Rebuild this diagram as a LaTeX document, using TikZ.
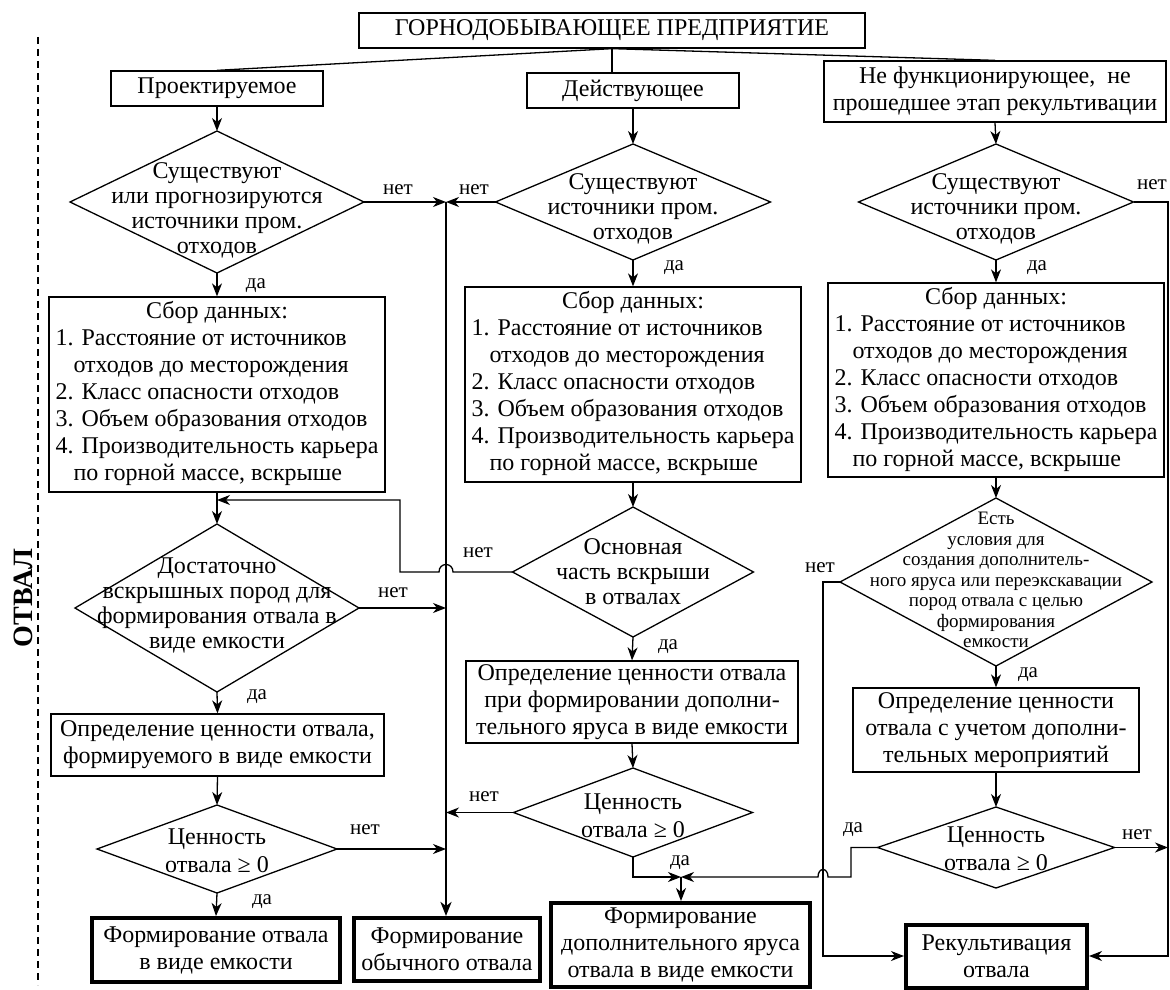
\documentclass[tikz,border=0pt]{standalone}
\usepackage{fontspec}
\setmainfont{Liberation Serif}
\usetikzlibrary{arrows.meta,shapes.geometric}
\begin{document}
\begin{tikzpicture}[x=1pt,y=-1pt,
  every node/.style={font=\fontsize{24}{27}\selectfont, align=center},
  box/.style={draw, line width=1.3pt, inner sep=0pt},
  fbox/.style={draw, line width=4pt, inner sep=0pt},
  dia/.style={draw, diamond, line width=1.3pt, inner sep=0pt, outer sep=0pt},
  dtxt/.style={inner sep=0pt, font=\fontsize{24}{25}\selectfont},
  ctxt/.style={inner sep=0pt, font=\fontsize{24}{28}\selectfont},
  stxt/.style={inner sep=0pt, font=\fontsize{19}{20.5}\selectfont},
  lbl/.style={inner sep=0pt, font=\fontsize{21}{22}\selectfont},
  ln/.style={line width=1.3pt},
  arr/.style={line width=1.3pt, -{Stealth[length=13pt,width=10pt,inset=4pt]}},
  thickline/.style={line width=2.6pt, -{Stealth[length=14pt,width=11pt,inset=4pt]}},
]
\path[use as bounding box] (0,0) rectangle (1170,990);

% side label
\draw[line width=1.2pt, dash pattern=on 7pt off 5pt] (38,37) -- (38,985);
\node[rotate=90, inner sep=0pt, font=\bfseries\fontsize{28}{30}\selectfont] (otv) at (23,598) {ОТВАЛ};

% top level
\node[box, minimum width=506, minimum height=35] (top) at (612,30.5) {ГОРНОДОБЫВАЮЩЕЕ ПРЕДПРИЯТИЕ};
\node[box, minimum width=212, minimum height=35] (proj) at (217,88.5) {Проектируемое};
\node[box, minimum width=212, minimum height=35] (act) at (633,90.5) {Действующее};
\node[box, minimum width=342, minimum height=61] (nonf) at (995,91.5) {Не функционирующее,~ не\\прошедшее этап рекультивации};

% first diamonds
\node[dia, minimum width=294, minimum height=142] (d1) at (217,202) {};
\node[dtxt] (d1t) at (217,210) {Существуют\\или прогнозируются\\источники пром.\\отходов};
\node[dia, minimum width=275, minimum height=116] (d2) at (633,202) {};
\node[dtxt] (d2t) at (633,209) {Существуют\\источники пром.\\отходов};
\node[dia, minimum width=275, minimum height=116] (d3) at (996,202) {};
\node[dtxt] (d3t) at (996,209) {Существуют\\источники пром.\\отходов};

% data boxes
\node[box, minimum width=336, minimum height=195] (db1) at (217,394.5) {\begin{tabular}{@{}l@{}}\multicolumn{1}{@{}c@{}}{Сбор данных:}\\1. Расстояние от источников\\\hspace*{18pt}отходов до месторождения\\2. Класс опасности отходов\\3. Объем образования отходов\\4. Производительность карьера\\\hspace*{18pt}по горной массе, вскрыше\end{tabular}};
\node[box, minimum width=336, minimum height=195] (db2) at (633,384.5) {\begin{tabular}{@{}l@{}}\multicolumn{1}{@{}c@{}}{Сбор данных:}\\1. Расстояние от источников\\\hspace*{18pt}отходов до месторождения\\2. Класс опасности отходов\\3. Объем образования отходов\\4. Производительность карьера\\\hspace*{18pt}по горной массе, вскрыше\end{tabular}};
\node[box, minimum width=336, minimum height=194] (db3) at (996,380) {\begin{tabular}{@{}l@{}}\multicolumn{1}{@{}c@{}}{Сбор данных:}\\1. Расстояние от источников\\\hspace*{18pt}отходов до месторождения\\2. Класс опасности отходов\\3. Объем образования отходов\\4. Производительность карьера\\\hspace*{18pt}по горной массе, вскрыше\end{tabular}};

% second diamonds
\node[dia, minimum width=284, minimum height=168] (d4) at (217,608) {};
\node[dtxt] (d4t) at (217,605.5) {Достаточно\\вскрышных пород для\\формирования отвала в\\виде емкости};
\node[dia, minimum width=241, minimum height=130] (d5) at (633,572) {};
\node[dtxt] (d5t) at (633,572) {Основная\\часть вскрыши\\в отвалах};
\node[dia, minimum width=312, minimum height=168] (d6) at (996,582) {};
\node[stxt] (d6t) at (996,580) {Есть\\условия для\\создания дополнитель-\\ного яруса или переэкскавации\\пород отвала с целью\\формирования\\емкости};

% value boxes
\node[box, minimum width=333, minimum height=62] (b4) at (217.5,745) {Определение ценности отвала,\\формируемого в виде емкости};
\node[box, minimum width=332, minimum height=82] (b5) at (632,702) {Определение ценности отвала\\при формировании дополни-\\тельного яруса в виде емкости};
\node[box, minimum width=286, minimum height=84] (b6) at (996,730) {Определение ценности\\отвала с учетом дополни-\\тельных мероприятий};

% value diamonds
\node[dia, minimum width=240, minimum height=88] (d7) at (217,849) {};
\node[ctxt] (d7t) at (217,851) {Ценность\\отвала ≥ 0};
\node[dia, minimum width=239, minimum height=89] (d8) at (633,812.5) {};
\node[ctxt] (d8t) at (633,815.5) {Ценность\\отвала ≥ 0};
\node[dia, minimum width=237, minimum height=81] (d9) at (996,847.5) {};
\node[ctxt] (d9t) at (996,848.5) {Ценность\\отвала ≥ 0};

% final boxes
\node[fbox, minimum width=248, minimum height=64] (f1) at (216,950) {Формирование отвала\\в виде емкости};
\node[fbox, minimum width=186, minimum height=63] (f2) at (447,949.5) {Формирование\\обычного отвала};
\node[fbox, minimum width=259, minimum height=84] (f3) at (680.5,945) {Формирование\\дополнительного яруса\\отвала в виде емкости};
\node[fbox, minimum width=181, minimum height=63] (f4) at (996.5,956) {Рекультивация\\отвала};

% helper coordinates
\coordinate (tl) at (446,202);
\coordinate (lp) at (217,500);
\coordinate (jm) at (681,877);
\coordinate (rr) at (1168,202);
\coordinate (lr) at (823,582);

% fan from top
\draw[ln] (top.south) -- (proj.north);
\draw[ln] (top.south) -- (top.south |- act.north);
\draw[ln] (top.south) -- (nonf.north);

\draw[arr] (proj.south) -- (d1.north);
\draw[arr] (act.south) -- (d2.north);
\draw[arr] (nonf.south) -- (d3.north);

% thick collector line
\draw[thickline] (tl) -- (tl |- f2.north);
\draw[arr] (d1.east) -- (tl);
\draw[arr] (d2.west) -- (tl);
\node[lbl] (n1) at (398,190) {нет};
\node[lbl] (n2) at (474,190) {нет};

\draw[arr] (d1.south) -- (db1.north);
\node[lbl] (y1) at (256,286) {да};
\draw[arr] (d2.south) -- (db2.north);
\node[lbl] (y2) at (674,268) {да};
\draw[arr] (d3.south) -- (db3.north);
\node[lbl] (y3) at (1037,268) {да};

\draw[arr] (d3.east) -- (rr) -- (rr |- f4.east) -- (f4.east);
\node[lbl] (n3) at (1152,185) {нет};

\draw[arr] (db1.south) -- (d4.north);
\draw[arr] (db2.south) -- (d5.north);
\draw[arr] (db3.south) -- (d6.north);

% loop back from d5
\draw[arr] (d5.west) -- (453,572) .. controls (453,562) and (439,562) .. (439,572) -- (400,572) -- (400,500) -- (lp);
\node[lbl] (n5) at (478,553) {нет};

\draw[arr] (d4.east) -- (tl |- d4.east);
\node[lbl] (n4) at (393,593) {нет};
\draw[arr] (d4.south) -- (b4.north);
\node[lbl] (y4) at (257,697) {да};
\draw[arr] (d5.south) -- (b5.north);
\node[lbl] (y5) at (668,647) {да};

\draw[arr] (d6.west) -- (lr) -- (lr |- f4.west) -- (f4.west);
\node[lbl] (n6) at (820,568) {нет};
\draw[arr] (d6.south) -- (b6.north);
\node[lbl] (y6) at (1028,675) {да};

\draw[arr] (b4.south) -- (d7.north);
\draw[arr] (b5.south) -- (d8.north);
\draw[arr] (b6.south) -- (d9.north);

\draw[arr] (d7.east) -- (tl |- d7.east);
\node[lbl] (n7) at (365,830) {нет};
\draw[arr] (d7.south) -- (f1.north);
\node[lbl] (y7) at (262,902) {да};

\draw[arr] (d8.west) -- (tl |- d8.west);
\node[lbl] (n8) at (484,797) {нет};
\draw[arr] (d8.south) |- (jm);
\node[lbl] (y8) at (680,863) {да};

\draw[arr] (d9.east) -- (rr |- d9.east);
\node[lbl] (n9) at (1137,835) {нет};
\draw[arr] (d9.west) -- (851,847.5) -- (851,877) -- (828,877) .. controls (828,867) and (818,867) .. (818,877) -- (jm);
\node[lbl] (y9) at (853,830) {да};

\draw[arr] (jm) -- (jm |- f3.north);
\end{tikzpicture}
\end{document}
